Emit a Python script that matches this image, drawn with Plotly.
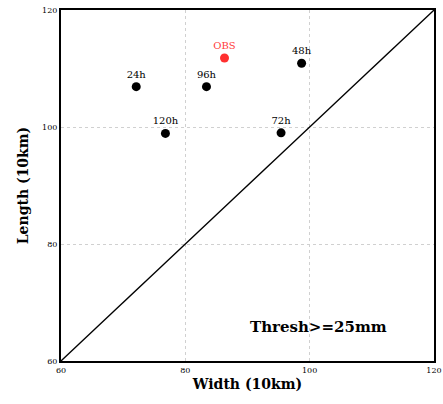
import plotly.graph_objects as go

labels = ["24h", "48h", "72h", "96h", "120h"]
width_vals = [72.1, 98.7, 95.4, 83.4, 76.8]
length_vals = [106.9, 110.9, 99.0, 106.9, 98.9]

obs_label = ["OBS"]
obs_width = [86.3]
obs_length = [111.8]

tick_vals = [60, 80, 100, 120]
tick_text = ["60", "80", "100", "120"]

lbl_font = dict(family="DejaVu Serif", size=10, color="black")

fig = go.Figure()
fig.add_trace(go.Scatter(
    x=[60, 120], y=[60, 120], mode="lines",
    line=dict(color="black", width=1.3), showlegend=False, hoverinfo="skip"))
fig.add_trace(go.Scatter(
    x=width_vals, y=length_vals, mode="markers+text", text=labels,
    textposition="top center", textfont=lbl_font,
    marker=dict(color="black", size=9), showlegend=False))
fig.add_trace(go.Scatter(
    x=obs_width, y=obs_length, mode="markers+text", text=obs_label,
    textposition="top center", textfont=dict(family="DejaVu Serif", size=10, color="#ff3b3b"),
    marker=dict(color="#ff3030", size=9), showlegend=False))

fig.add_annotation(x=90.0, y=65.8, xanchor="left", yanchor="middle", showarrow=False,
                   text="<b>Thresh>=25mm</b>",
                   font=dict(family="DejaVu Serif", size=15, color="black"))

axis_common = dict(
    range=[60, 120], tickmode="array", tickvals=tick_vals, ticktext=tick_text,
    showgrid=True, gridcolor="#d0d0d0", griddash="dot", gridwidth=1,
    showline=True, linecolor="black", linewidth=2, mirror=True,
    zeroline=False, ticks="", automargin=False, ticklabeloverflow="allow",
    tickfont=dict(family="DejaVu Serif", size=8, color="black"),
)

fig.update_layout(
    width=443, height=404,
    margin=dict(l=61, r=9, t=10, b=43),
    paper_bgcolor="white", plot_bgcolor="white",
    xaxis=dict(**axis_common, title=dict(text="<b>Width (10km)</b>", standoff=6,
               font=dict(family="DejaVu Serif", size=14, color="black"))),
    yaxis=dict(**axis_common, title=dict(text="<b>Length (10km)</b>", standoff=10,
               font=dict(family="DejaVu Serif", size=14, color="black"))),
)
fig.write_html("out.html", config={"displayModeBar": False},
               post_script="document.body.style.margin='0';document.body.style.overflow='hidden';")
